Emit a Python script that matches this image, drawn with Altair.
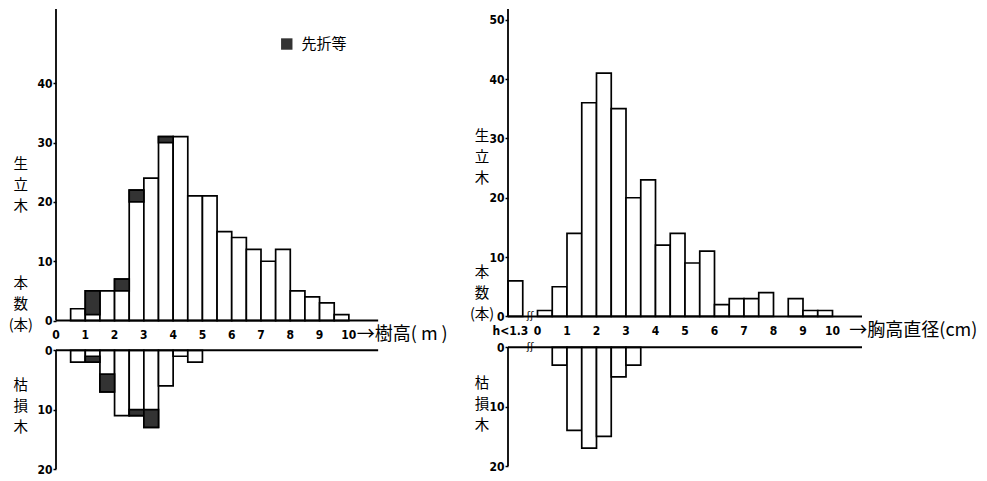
import altair as alt
import pandas as pd

# ---------------- data ----------------
# Left panel: tree height classes (lower bound, m), width 0.5 m
height_class = [0.5, 1.0, 1.5, 2.0, 2.5, 3.0, 3.5, 4.0, 4.5, 5.0, 5.5, 6.0, 6.5, 7.0, 7.5, 8.0, 8.5, 9.0, 9.5]
live_h_total = [2, 5, 5, 7, 22, 24, 31, 31, 21, 21, 15, 14, 12, 10, 12, 5, 4, 3, 1]
live_h_broken = [0, 4, 0, 2, 2, 0, 1, 0, 0, 0, 0, 0, 0, 0, 0, 0, 0, 0, 0]
dead_h_class = [0.5, 1.0, 1.5, 2.0, 2.5, 3.0, 3.5, 4.0, 4.5]
dead_h_total = [2, 2, 7, 11, 11, 13, 6, 1, 2]
dead_h_broken = [0, 1, 3, 0, 1, 3, 0, 0, 0]

# Right panel: DBH classes (lower bound, cm); -1 stands for "h<1.3"
dbh_class = [-1.0, 0.0, 0.5, 1.0, 1.5, 2.0, 2.5, 3.0, 3.5, 4.0, 4.5, 5.0, 5.5, 6.0, 6.5, 7.0, 7.5, 8.0, 8.5, 9.0, 9.5]
live_d_total = [6, 1, 5, 14, 36, 41, 35, 20, 23, 12, 14, 9, 11, 2, 3, 3, 4, 0, 3, 1, 1]
dead_d_class = [0.5, 1.0, 1.5, 2.0, 2.5, 3.0]
dead_d_total = [3, 14, 17, 15, 5, 3]

bin_width = 0.5
h_tick_values = [0, 1, 2, 3, 4, 5, 6, 7, 8, 9, 10]
h_tick_labels = ["0", "1", "2", "3", "4", "5", "6", "7", "8", "9", "10"]
d_tick_values = [-0.92, 0, 1, 2, 3, 4, 5, 6, 7, 8, 9, 10]
d_tick_labels = ["h<1.3", "0", "1", "2", "3", "4", "5", "6", "7", "8", "9", "10"]

side_labels = [["生", "立", "木"], ["本", "数", "(本)"], ["枯", "損", "木"]]

NUM_FONT = "DejaVu Sans Condensed, sans-serif"
CJK_FONT = "Noto Sans CJK JP"
HATCH = "#333333"


def panel(cls_live, tot_live, brk_live, cls_dead, tot_dead, brk_dead,
          xdom, ydom, gap, width, height, ticks_up, ticks_low,
          xt_vals, xt_labels, xtitle, xtitle_x, side_x, side_y, lab_y,
          legend=None, brk_mark=None):
    x_scale = alt.Scale(domain=xdom, nice=False, zero=False)
    y_scale = alt.Scale(domain=ydom, nice=False, zero=False)
    yvals = ticks_up + [-(gap + v) for v in ticks_low]
    y_axis = alt.Axis(values=yvals, title=None, grid=False, domain=False,
                      labelExpr=f"datum.value >= -0.01 ? datum.value : round(-(datum.value + {gap}))",
                      tickSize=3, tickWidth=1.5, tickColor="black",
                      labelFont=NUM_FONT, labelFontSize=12, labelFontWeight="bold",
                      labelColor="black", labelPadding=1)

    def X(f):
        return alt.X(f, type="quantitative", scale=x_scale, axis=None)

    def Y(f):
        return alt.Y(f, type="quantitative", scale=y_scale, axis=y_axis)

    rows = []
    for c, t, b in zip(cls_live, tot_live, brk_live):
        if t > 0:
            rows.append(dict(x0=c, x1=c + bin_width, y0=0, y1=t, h0=t - b, h1=t, hb=b))
    for c, t, b in zip(cls_dead, tot_dead, brk_dead):
        rows.append(dict(x0=c, x1=c + bin_width, y0=-gap, y1=-(gap + t),
                         h0=-(gap + t - b), h1=-(gap + t), hb=b))
    bars = pd.DataFrame(rows)

    white = alt.Chart(bars).mark_bar(fill="white", stroke="black", strokeWidth=1.7).encode(
        x=X("x0"), x2="x1", y=Y("y0"), y2="y1")
    hatched = alt.Chart(bars[bars.hb > 0]).mark_bar(fill=HATCH, stroke="black", strokeWidth=1.7).encode(
        x=X("x0"), x2="x1", y=Y("h0"), y2="h1")

    # axis lines (broken between the two halves)
    vlines = pd.DataFrame(dict(x=[xdom[0], xdom[0]], ya=[0, -gap], yb=[ydom[1], ydom[0]]))
    vrule = alt.Chart(vlines).mark_rule(color="black", strokeWidth=1.8).encode(
        x=X("x"), y=Y("ya"), y2="yb")
    # base lines
    hlines = pd.DataFrame(dict(xa=[xdom[0], xdom[0]], xb=[11, 11], y=[0, -gap]))
    hrule = alt.Chart(hlines).mark_rule(color="black", strokeWidth=2).encode(
        x=X("xa"), x2="xb", y=Y("y"))

    xt = pd.DataFrame(dict(x=xt_vals, y=[lab_y] * len(xt_vals), t=xt_labels))
    xtext = alt.Chart(xt).mark_text(font=NUM_FONT, fontSize=12, fontWeight="bold",
                                    color="black", baseline="middle").encode(
        x=X("x"), y=Y("y"), text="t:N")

    tt = pd.DataFrame(dict(x=[xtitle_x], y=[lab_y], t=[xtitle]))
    ttext = alt.Chart(tt).mark_text(font=CJK_FONT, fontSize=18, color="black",
                                    align="left", baseline="middle").encode(
        x=X("x"), y=Y("y"), text="t:N")

    # vertical (stacked) side labels, one character per row
    line_step = 21.0 * (ydom[1] - ydom[0]) / height  # 21 px in data units
    srows = []
    for chars, y0 in zip(side_labels, side_y):
        for i, ch in enumerate(chars):
            srows.append(dict(x=side_x, y=y0 - i * line_step, t=ch))
    stext = alt.Chart(pd.DataFrame(srows)).mark_text(
        font=CJK_FONT, fontSize=14.5, color="black",
        baseline="middle", align="center").encode(
        x=X("x"), y=Y("y"), text="t:N")

    layers = [white, hatched, vrule, hrule, xtext, ttext, stext]

    if brk_mark is not None:
        bm = pd.DataFrame(dict(x=[brk_mark, brk_mark], y=[0, -gap], t=["ʃʃ", "ʃʃ"]))
        layers.append(alt.Chart(bm).mark_text(font="DejaVu Sans", fontSize=10,
                                              color="black", baseline="middle").encode(
            x=X("x"), y=Y("y"), text="t:N"))

    if legend is not None:
        lx, ly, ltxt = legend
        sw = pd.DataFrame(dict(x=[lx], y=[ly]))
        layers.append(alt.Chart(sw).mark_point(shape="square", filled=True, size=130,
                                               color=HATCH, opacity=1).encode(
            x=X("x"), y=Y("y")))
        lt = pd.DataFrame(dict(x=[lx + 0.5], y=[ly], t=[ltxt]))
        layers.append(alt.Chart(lt).mark_text(font=CJK_FONT, fontSize=15, color="black",
                                              align="left", baseline="middle").encode(
            x=X("x"), y=Y("y"), text="t:N"))

    return alt.layer(*layers).properties(width=width, height=height)


left = panel(height_class, live_h_total, live_h_broken,
             dead_h_class, dead_h_total, dead_h_broken,
             xdom=[0, 14], ydom=[-25, 52.5], gap=5, width=410, height=460,
             ticks_up=[0, 10, 20, 30, 40], ticks_low=[0, 10, 20],
             xt_vals=h_tick_values, xt_labels=h_tick_labels,
             xtitle="→樹高( m )", xtitle_x=10.27,
             side_x=-1.2, side_y=[26.3, 6.2, -11.1], lab_y=-2.5,
             legend=(7.88, 46.6, "先折等"))

right = panel(dbh_class, live_d_total, [0] * len(dbh_class),
              dead_d_class, dead_d_total, [0] * len(dead_d_class),
              xdom=[-1, 11], ydom=[-25.2, 51.8], gap=5.2, width=354, height=457,
              ticks_up=[0, 10, 20, 30, 40, 50], ticks_low=[0, 10, 20],
              xt_vals=d_tick_values, xt_labels=d_tick_labels,
              xtitle="→胸高直径(cm)", xtitle_x=10.57,
              side_x=-1.88, side_y=[30.2, 7.4, -11.3], lab_y=-2.4,
              brk_mark=-0.25)

chart = alt.hconcat(left, right, spacing=3).properties(
    padding={"left": 0, "top": 0, "right": 0, "bottom": 0},
    background="white"
).configure_view(stroke=None)

chart.save("out.html", embed_options={"renderer": "svg", "actions": False})
